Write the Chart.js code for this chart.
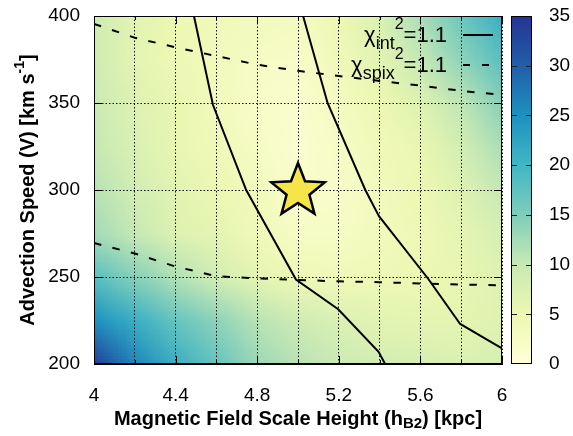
<!DOCTYPE html>
<html><head><meta charset="utf-8">
<script src="https://cdn.jsdelivr.net/npm/chart.js@4"></script>
<style>html,body{margin:0;padding:0;background:#fff}#wrap{width:573px;height:436px}</style>
</head><body><div id="wrap"><canvas id="c" width="573" height="436"></canvas></div>
<script>
// ---------------- data ----------------
const hB2 = [4.0, 4.2, 4.4, 4.6, 4.8, 5.0, 5.2, 5.4, 5.6, 5.8, 6.0];
const speedRows = [400, 375, 350, 325, 300, 275, 250, 225, 200];
const chi2_V400 = [9, 6.5, 5, 4, 3.5, 3, 5, 7.5, 12, 16.5, 21];
const chi2_V375 = [9, 6, 4.5, 3.5, 2.5, 2, 4, 6.5, 10, 14, 18];
const chi2_V350 = [9.5, 7, 5.5, 3.5, 2, 1.5, 3, 5, 7, 10.5, 14.5];
const chi2_V325 = [10, 7.5, 5.5, 4, 2.5, 1, 2.5, 4, 5.5, 8.5, 12];
const chi2_V300 = [11, 8.5, 6.5, 5, 3.5, 1.5, 2, 3.5, 5, 7, 10];
const chi2_V275 = [12.5, 10, 7, 6, 4, 2.5, 2.5, 3.5, 4.5, 6, 8];
const chi2_V250 = [18, 14.5, 11.5, 8.5, 6, 4.5, 4, 4.5, 5, 5.5, 7];
const chi2_V225 = [25, 21, 17, 14, 11, 9, 7.5, 6.5, 6, 6, 7];
const chi2_V200 = [34, 26, 21, 17, 13, 11, 9.5, 8.5, 8, 7.5, 8];
const heatRows = [chi2_V400, chi2_V375, chi2_V350, chi2_V325, chi2_V300, chi2_V275, chi2_V250, chi2_V225, chi2_V200];

const intLeftX = [4.49, 4.583, 4.746, 4.99, 5.197, 5.395, 5.427];
const intLeftY = [400, 349, 300, 248.5, 231.5, 207, 200];
const intRightX = [5.025, 5.145, 5.33, 5.397, 5.638, 5.795, 6.0];
const intRightY = [400, 350, 300, 285, 249, 223, 209];
const spixUpperX = [4.0, 4.2, 4.4, 4.6, 4.8, 5.0, 5.2, 5.4, 5.6, 5.8, 6.0];
const spixUpperY = [395.5, 387.5, 382, 377, 372, 368.5, 365.5, 362.7, 360, 357, 354.6];
const spixLowerX = [4.0, 4.2, 4.4, 4.6, 4.8, 5.0, 5.2, 5.4, 5.6, 5.8, 6.0];
const spixLowerY = [269.5, 263.5, 256, 250.5, 249.2, 248.3, 247.5, 247, 246.3, 245.7, 245.2];
const bestFitX = [5.0];
const bestFitY = [300];

const xTickLabels = ['4', '4.4', '4.8', '5.2', '5.6', '6'];
const cbarMin = 0, cbarMax = 35;
const palette = ['#ffffd9', '#edf8b1', '#c7e9b4', '#7fcdbb', '#41b6c4', '#1d91c0', '#225ea8', '#253494'];

// ---------------- helpers ----------------
const FONT = "'Liberation Sans', Arial, Helvetica, sans-serif";
function hexToRgb(h) { return [parseInt(h.substr(1,2),16), parseInt(h.substr(3,2),16), parseInt(h.substr(5,2),16)]; }
const palRgb = palette.map(hexToRgb);
function cmap(v) {
  let t = (v - cbarMin) / (cbarMax - cbarMin) * (palRgb.length - 1);
  t = Math.max(0, Math.min(palRgb.length - 1, t));
  const i = Math.min(palRgb.length - 2, Math.floor(t)), f = t - i;
  const a = palRgb[i], b = palRgb[i + 1];
  return [0,1,2].map(k => Math.round(a[k] + (b[k] - a[k]) * f));
}
const pts = (xs, ys) => xs.map((x, i) => ({x: x, y: ys[i]}));

function makeStar() {
  const c = document.createElement('canvas'); c.width = 64; c.height = 64;
  const g = c.getContext('2d');
  const R = 28, r = 12, cx = 32, cy = 33;
  g.beginPath();
  for (let k = 0; k < 10; k++) {
    const ang = -Math.PI / 2 + k * Math.PI / 5;
    const rr = k % 2 === 0 ? R : r;
    const px = cx + rr * Math.cos(ang), py = cy + rr * Math.sin(ang);
    k === 0 ? g.moveTo(px, py) : g.lineTo(px, py);
  }
  g.closePath();
  g.fillStyle = '#f6e548'; g.fill();
  g.lineWidth = 2.5; g.lineJoin = 'miter'; g.strokeStyle = '#000'; g.stroke();
  return c;
}

function richWidth(ctx, segs) {
  let w = 0;
  for (const s of segs) { ctx.font = (s.bold ? 'bold ' : '') + s.size + 'px ' + FONT; w += ctx.measureText(s.t).width + (s.gap || 0); }
  return w;
}
function drawRich(ctx, segs, x, y) {
  let cx = x;
  for (const s of segs) {
    ctx.font = (s.bold ? 'bold ' : '') + s.size + 'px ' + FONT;
    ctx.fillText(s.t, cx, y + (s.dy || 0));
    cx += ctx.measureText(s.t).width + (s.gap || 0);
  }
}

// ---------------- plugins ----------------
const heatmapPlugin = {
  id: 'heatmap',
  beforeDraw(chart) {
    const {ctx, chartArea: a, scales: {x, y}} = chart;
    const nx = hB2.length, ny = speedRows.length;
    const off = document.createElement('canvas'); off.width = nx; off.height = ny;
    const octx = off.getContext('2d');
    const img = octx.createImageData(nx, ny);
    for (let j = 0; j < ny; j++) for (let i = 0; i < nx; i++) {
      const c = cmap(heatRows[j][i]); const p = (j * nx + i) * 4;
      img.data[p] = c[0]; img.data[p+1] = c[1]; img.data[p+2] = c[2]; img.data[p+3] = 255;
    }
    octx.putImageData(img, 0, 0);
    const hx = (hB2[1] - hB2[0]) / 2, hy = (speedRows[0] - speedRows[1]) / 2;
    const l = x.getPixelForValue(hB2[0] - hx), r = x.getPixelForValue(hB2[nx-1] + hx);
    const t = y.getPixelForValue(speedRows[0] + hy), b = y.getPixelForValue(speedRows[ny-1] - hy);
    ctx.save();
    ctx.beginPath(); ctx.rect(a.left, a.top, a.right - a.left, a.bottom - a.top); ctx.clip();
    ctx.imageSmoothingEnabled = true;
    ctx.drawImage(off, l, t, r - l, b - t);
    ctx.restore();
  }
};

const decoPlugin = {
  id: 'deco',
  afterDraw(chart) {
    const {ctx, chartArea: a, scales: {x, y, cb}} = chart;
    ctx.save();
    // inward ticks
    ctx.strokeStyle = '#000'; ctx.lineWidth = 1; ctx.setLineDash([]);
    x.ticks.forEach(tk => {
      const px = Math.round(x.getPixelForValue(tk.value)) + 0.5;
      const len = tk.label ? 8 : 4;
      ctx.beginPath(); ctx.moveTo(px, a.bottom); ctx.lineTo(px, a.bottom - len);
      ctx.moveTo(px, a.top); ctx.lineTo(px, a.top + len); ctx.stroke();
    });
    y.ticks.forEach(tk => {
      const py = Math.round(y.getPixelForValue(tk.value)) + 0.5;
      ctx.beginPath(); ctx.moveTo(a.left, py); ctx.lineTo(a.left + 8, py);
      ctx.moveTo(a.right, py); ctx.lineTo(a.right - 8, py); ctx.stroke();
    });
    // frame
    ctx.strokeRect(Math.round(a.left) + 0.5, Math.round(a.top) + 0.5, Math.round(a.right - a.left) - 1, Math.round(a.bottom - a.top) - 1);

    // colorbar
    const cbL = cb.left + 9, cbR = cb.left + 30;
    const cbT = cb.getPixelForValue(cbarMax), cbB = cb.getPixelForValue(cbarMin);
    const grad = ctx.createLinearGradient(0, cbB, 0, cbT);
    palette.forEach((c, i) => grad.addColorStop(i / (palette.length - 1), c));
    ctx.fillStyle = grad; ctx.fillRect(cbL, cbT, cbR - cbL, cbB - cbT);
    ctx.strokeStyle = '#222';
    cb.ticks.forEach(tk => {
      if (tk.value <= cbarMin || tk.value >= cbarMax) return;
      const py = Math.round(cb.getPixelForValue(tk.value)) + 0.5;
      ctx.beginPath(); ctx.moveTo(cbL, py); ctx.lineTo(cbL + 6, py);
      ctx.moveTo(cbR, py); ctx.lineTo(cbR - 6, py); ctx.stroke();
    });
    ctx.strokeStyle = '#000';
    ctx.strokeRect(Math.round(cbL) + 0.5, Math.round(cbT) + 0.5, Math.round(cbR - cbL) - 1, Math.round(cbB - cbT) - 1);

    // axis titles
    ctx.fillStyle = '#000'; ctx.textBaseline = 'middle'; ctx.textAlign = 'left';
    const xt = [
      {t: 'Magnetic Field Scale Height (h', size: 20, bold: true},
      {t: 'B2', size: 15, bold: true, dy: 5},
      {t: ') [kpc]', size: 20, bold: true}
    ];
    const xw = richWidth(ctx, xt);
    drawRich(ctx, xt, (a.left + a.right) / 2 - xw / 2, 419);
    const yt = [
      {t: 'Advection Speed (V) [km s', size: 20, bold: true},
      {t: '-1', size: 14, bold: true, dy: -8},
      {t: ']', size: 20, bold: true}
    ];
    const yw = richWidth(ctx, yt);
    ctx.save(); ctx.translate(28, (a.top + a.bottom) / 2); ctx.rotate(-Math.PI / 2);
    drawRich(ctx, yt, -yw / 2, 0); ctx.restore();

    // legend
    const rows = [
      {sub: 'int', y: 36, dash: []},
      {sub: 'spix', y: 66, dash: [7, 12]}
    ];
    const textEnd = 447;
    rows.forEach(rw => {
      const segs = [
        {t: 'χ', size: 22},
        {t: rw.sub, size: 18, dy: 8},
        {t: '2', size: 16, dy: -11, gap: 0},
        {t: '=1.1', size: 22}
      ];
      const w = richWidth(ctx, segs);
      ctx.fillStyle = '#000';
      drawRich(ctx, segs, textEnd - w, rw.y);
      ctx.beginPath(); ctx.setLineDash(rw.dash); ctx.lineWidth = 2; ctx.strokeStyle = '#000';
      ctx.moveTo(463, rw.y - 1); ctx.lineTo(493, rw.y - 1); ctx.stroke(); ctx.setLineDash([]);
    });
    ctx.restore();
  }
};

// ---------------- chart ----------------
Chart.defaults.color = '#000';
Chart.defaults.font.family = FONT;
const star = makeStar();
const lineStyle = {showLine: true, pointRadius: 0, borderColor: '#000', backgroundColor: '#000', borderWidth: 2, tension: 0, fill: false, order: 2};
const noPad = s => { s.paddingTop = 0; s.paddingBottom = 0; s.paddingLeft = 0; s.paddingRight = 0; };

new Chart(document.getElementById('c'), {
  type: 'scatter',
  data: {
    datasets: [
      {label: 'best fit', data: pts(bestFitX, bestFitY), pointStyle: star, pointRadius: 28, order: 0},
      Object.assign({label: 'χint2 left', data: pts(intLeftX, intLeftY)}, lineStyle),
      Object.assign({label: 'χint2 right', data: pts(intRightX, intRightY)}, lineStyle),
      Object.assign({label: 'χspix2 upper', data: pts(spixUpperX, spixUpperY), borderDash: [7.5, 11.5]}, lineStyle),
      Object.assign({label: 'χspix2 lower', data: pts(spixLowerX, spixLowerY), borderDash: [7.5, 11.5]}, lineStyle)
    ]
  },
  options: {
    responsive: false, animation: false, devicePixelRatio: 1,
    layout: {autoPadding: false, padding: {top: 16, left: 0, right: 0, bottom: 0}},
    plugins: {legend: {display: false}, tooltip: {enabled: false}},
    scales: {
      x: {
        type: 'linear', min: 4, max: 6,
        ticks: {stepSize: 0.2, autoSkip: false, maxRotation: 0, padding: 20, font: {size: 19},
          callback: v => { const s = String(Math.round(v * 10) / 10); return xTickLabels.includes(s) ? s : ''; }},
        grid: {color: '#111', lineWidth: 1, drawTicks: false},
        border: {display: true, color: '#000', width: 1, dash: [1.5, 2]},
        afterFit: s => { s.height = 72; noPad(s); }
      },
      y: {
        type: 'linear', min: 200, max: 400,
        ticks: {stepSize: 50, padding: 14, font: {size: 19}},
        grid: {color: '#111', lineWidth: 1, drawTicks: false},
        border: {display: true, color: '#000', width: 1, dash: [1.5, 2]},
        afterFit: s => { s.width = 94; noPad(s); }
      },
      cb: {
        type: 'linear', axis: 'y', position: 'right', min: cbarMin, max: cbarMax,
        ticks: {stepSize: 5, padding: 47, font: {size: 19}},
        grid: {display: false, drawTicks: false},
        border: {display: false},
        afterFit: s => { s.width = 71; noPad(s); }
      }
    }
  },
  plugins: [heatmapPlugin, decoPlugin]
});
</script></body></html>
